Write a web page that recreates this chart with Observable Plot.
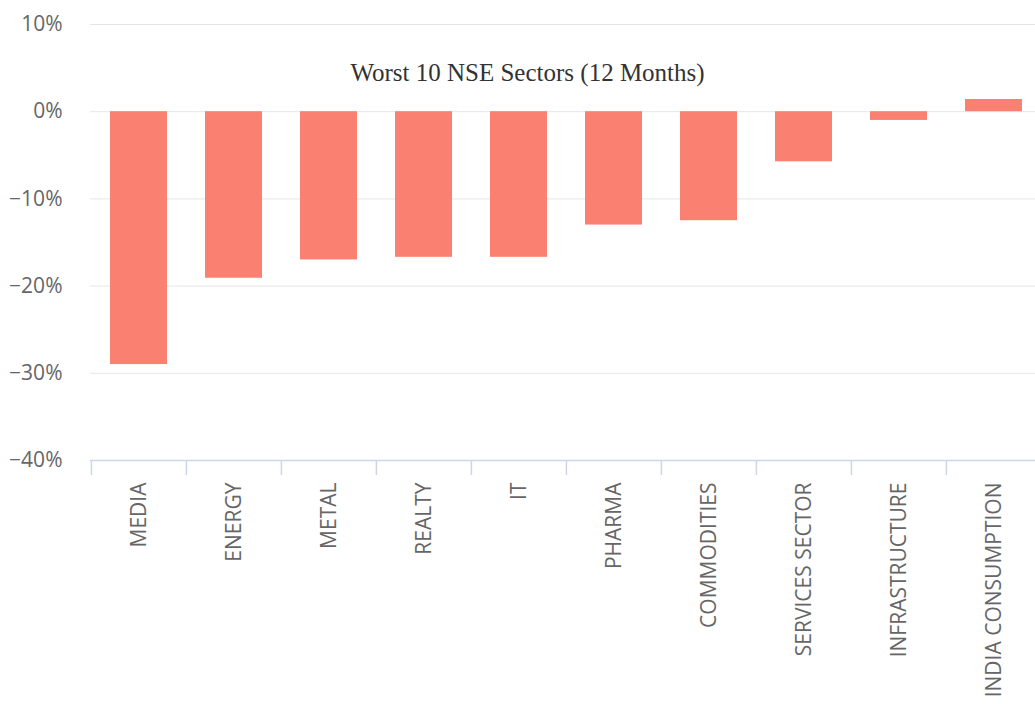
<!DOCTYPE html>
<html>
<head>
<meta charset="utf-8">
<script src="https://cdn.jsdelivr.net/npm/d3@7"></script>
<script src="https://cdn.jsdelivr.net/npm/@observablehq/plot@0.6"></script>
<style>
  html, body { margin: 0; padding: 0; background: #fff; overflow: hidden; }
  #chart svg { display: block; max-width: none !important; }
</style>
</head>
<body>
<div id="chart"></div>
<script>
const sectors = ["MEDIA", "ENERGY", "METAL", "REALTY", "IT", "PHARMA", "COMMODITIES", "SERVICES SECTOR", "INFRASTRUCTURE", "INDIA CONSUMPTION"];
const returns = [-29.0, -19.1, -17.0, -16.7, -16.7, -13.0, -12.5, -5.75, -1.0, 1.4];
const yTicks = [10, 0, -10, -20, -30, -40];
const title = "Worst 10 NSE Sectors (12 Months)";

const data = sectors.map((s, i) => ({sector: s, value: returns[i]}));

const W = 1042, mL = 90, mR = 0;
const step = (W - mL - mR) / sectors.length;

const chart = Plot.plot({
  width: W,
  height: 704,
  marginLeft: mL,
  marginRight: mR,
  marginTop: 24,
  marginBottom: 244,
  style: {fontFamily: "'Open Sans', sans-serif", background: "#fff", maxWidth: "none"},
  x: {domain: sectors, paddingInner: 0.4, paddingOuter: 0.2, axis: null, label: null},
  y: {domain: [-40, 10], axis: null, label: null},
  marks: [
    Plot.ruleY(yTicks.filter(t => t > -40), {stroke: "#e6e6e6", strokeWidth: 1}),
    Plot.barY(data, {x: "sector", y: "value", fill: "#fa8072"}),
    Plot.ruleY([-40], {stroke: "#ccd6eb", strokeWidth: 1.5}),
    Plot.axisX({tickSize: 15, tickFormat: () => "", label: null, dx: -step / 2, stroke: "#ccd6eb", strokeWidth: 1.5, strokeOpacity: 1}),
    Plot.axisX({tickSize: 0, tickRotate: -90, tickPadding: 22, label: null, fontSize: 21, fill: "#666", textStroke: "none"}),
    Plot.axisY({ticks: yTicks, tickSize: 0, tickPadding: 28, label: null, tickFormat: d => (d < 0 ? "\u2212" + (-d) : d) + "%", fontSize: 21, fill: "#666"}),
    Plot.text([title], {frameAnchor: "top", dy: 39, dx: -39, text: d => d, fontFamily: "'Liberation Serif', serif", fontSize: 25, fill: "#333"})
  ]
});
document.getElementById("chart").appendChild(chart);
</script>
</body>
</html>
